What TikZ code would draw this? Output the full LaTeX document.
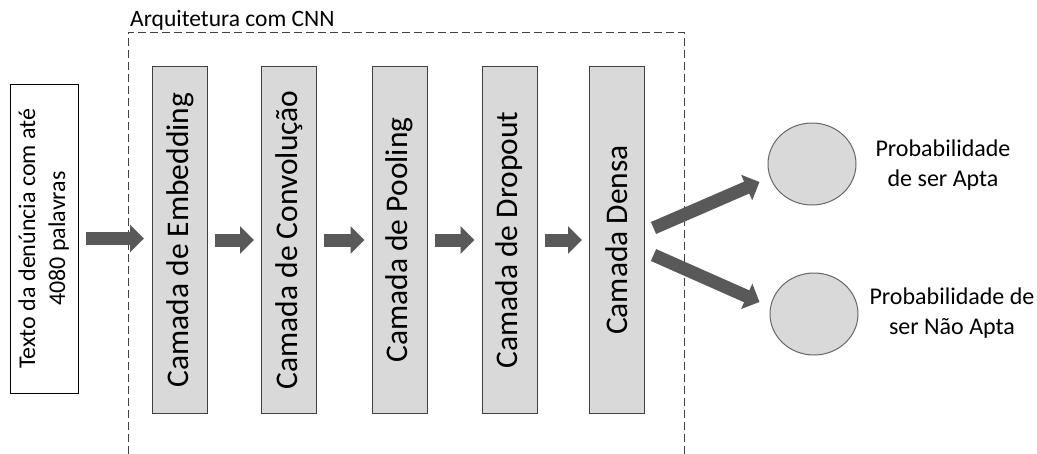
\documentclass[tikz,border=0pt]{standalone}
\usepackage{fontspec}
\usepackage{graphicx}
\setmainfont{Carlito}
\usetikzlibrary{arrows.meta,shapes.geometric}
\definecolor{layerfill}{HTML}{D9D9D9}
\definecolor{flowgray}{HTML}{595959}
\definecolor{edgegray}{HTML}{404040}
\begin{document}
\begin{tikzpicture}[x=1pt,y=-1pt,
  layer/.style={draw=edgegray, fill=layerfill, line width=1pt,
    minimum width=55pt, minimum height=347pt, inner sep=0pt,
    font=\fontsize{31.5}{38}\selectfont},
  inputbox/.style={draw=black, fill=white, line width=1pt,
    minimum width=68pt, minimum height=309pt, inner sep=0pt,
    font=\fontsize{24}{30}\selectfont},
  container/.style={draw=edgegray, line width=1pt, dash pattern=on 8pt off 4pt,
    minimum width=556pt, minimum height=430pt, inner sep=0pt},
  outnode/.style={ellipse, draw=black!60, fill=layerfill, line width=1pt,
    minimum width=88pt, minimum height=82pt, inner sep=0pt},
  caption/.style={font=\fontsize{24}{29.5}\selectfont, align=center, inner sep=0pt},
  flow/.style={draw=flowgray, line width=13pt,
    -{Triangle[width=27pt,length=14pt]}},
]
\useasboundingbox (0,0) rectangle (1037,453);

% CNN container (its lower edge runs past the page) and its title
\node[container] (cnn) at (406,247) {};
\node[anchor=base west, inner sep=0pt, font=\fontsize{23.5}{28}\selectfont]
  (cnntitle) at (130,26) {Arquitetura com CNN};

% input text
\node[inputbox] (in) at (44,238.5)
  {\rotatebox{90}{\begin{tabular}{@{}c@{}}Texto da denúncia com até\\4080 palavras\end{tabular}}};

% network layers
\node[layer] (l1) at (180,240)   {\rotatebox{90}{Camada de Embedding}};
\node[layer] (l2) at (289,240)   {\rotatebox{90}{Camada de Convolução}};
\node[layer] (l3) at (399.5,240) {\rotatebox{90}{Camada de Pooling}};
\node[layer] (l4) at (509.5,240) {\rotatebox{90}{Camada de Dropout}};
\node[layer] (l5) at (617,240)   {\rotatebox{90}{Camada Densa}};

% output neurons
\node[outnode] (c1) at (812,164) {};
\node[outnode] (c2) at (814,314) {};
\node[caption] (t1) at (943,165) {Probabilidade\\de ser Apta};
\node[caption] (t2) at (952,313) {Probabilidade de\\ser Não Apta};

% flow arrows
\draw[flow, shorten <=7pt, shorten >=8pt] (in.east) -- (in.east -| l1.west);
\draw[flow, shorten <=7pt, shorten >=7pt] (l1.east) -- (l2.west);
\draw[flow, shorten <=7pt, shorten >=7pt] (l2.east) -- (l3.west);
\draw[flow, shorten <=7pt, shorten >=7pt] (l3.east) -- (l4.west);
\draw[flow, shorten <=7pt, shorten >=7pt] (l4.east) -- (l5.west);
\draw[flow] ([shift={(8.5,-12)}]l5.east) -- ([shift={(-8,18)}]c1.west);
\draw[flow] ([shift={(8.5,15)}]l5.east) -- ([shift={(-10,-12)}]c2.west);
\end{tikzpicture}
\end{document}
